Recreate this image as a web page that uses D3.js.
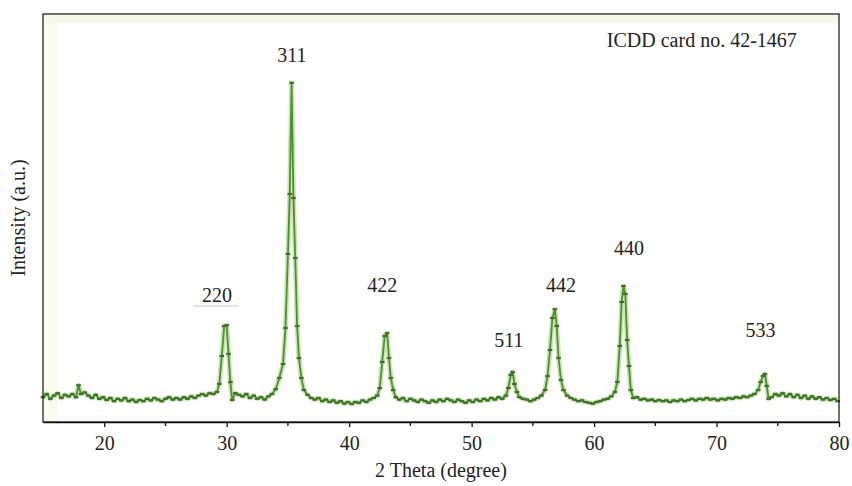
<!DOCTYPE html>
<html><head><meta charset="utf-8">
<script src="https://cdn.jsdelivr.net/npm/d3@7/dist/d3.min.js"></script>
<style>body{margin:0;background:#fff}svg{display:block}</style>
</head><body><svg id="c" width="852" height="486"></svg>
<script>
const twoTheta = [15.0,15.3,15.6,15.9,16.2,16.5,16.8,17.1,17.4,17.7,17.9,18.1,18.4,18.7,19.0,19.3,19.6,19.9,20.2,20.5,20.8,21.1,21.4,21.7,22.0,22.3,22.6,22.9,23.2,23.5,23.8,24.1,24.4,24.7,25.0,25.3,25.6,25.9,26.2,26.5,26.8,27.1,27.4,27.7,28.0,28.3,28.6,28.9,29.2,29.4,29.6,29.8,30.0,30.15,30.3,30.45,30.7,31.0,31.3,31.6,31.9,32.2,32.5,32.8,33.1,33.4,33.7,34.0,34.3,34.6,34.8,35.0,35.15,35.3,35.45,35.6,35.75,35.9,36.1,36.3,36.6,36.9,37.2,37.5,37.8,38.1,38.4,38.7,39.0,39.3,39.6,39.9,40.2,40.5,40.8,41.1,41.4,41.7,42.0,42.3,42.5,42.7,42.9,43.1,43.25,43.4,43.6,43.8,44.1,44.4,44.7,45.0,45.3,45.6,45.9,46.2,46.5,46.8,47.1,47.4,47.7,48.0,48.3,48.6,48.9,49.2,49.5,49.8,50.1,50.4,50.7,51.0,51.3,51.6,51.9,52.2,52.5,52.8,53.0,53.2,53.35,53.5,53.7,53.9,54.2,54.5,54.8,55.1,55.4,55.7,56.0,56.2,56.4,56.6,56.8,56.95,57.1,57.3,57.5,57.8,58.1,58.4,58.7,59.0,59.3,59.6,59.9,60.2,60.5,60.8,61.1,61.4,61.7,61.9,62.1,62.25,62.4,62.55,62.7,62.85,63.0,63.2,63.5,63.8,64.1,64.4,64.7,65.0,65.3,65.6,65.9,66.2,66.5,66.8,67.1,67.4,67.7,68.0,68.3,68.6,68.9,69.2,69.5,69.8,70.1,70.4,70.7,71.0,71.3,71.6,71.9,72.2,72.5,72.8,73.1,73.4,73.6,73.8,73.95,74.1,74.25,74.5,74.8,75.1,75.4,75.7,76.0,76.3,76.6,76.9,77.2,77.5,77.8,78.1,78.4,78.7,79.0,79.3,79.6,79.9];
const intensity = [62,70,58,66,72,60,68,64,70,62,92,70,74,66,60,68,58,62,55,60,52,58,54,60,52,56,50,55,52,58,54,60,56,52,58,62,56,60,56,62,58,64,60,66,70,66,72,70,75,95,165,240,242,170,100,55,72,68,64,70,60,66,58,62,56,64,70,82,110,145,235,420,570,848,560,410,240,160,110,80,68,60,56,60,52,56,50,54,48,52,46,50,45,50,48,54,50,56,60,66,85,150,215,222,160,110,80,62,56,60,52,58,54,50,56,52,48,54,50,56,52,58,54,50,56,52,48,54,50,56,52,58,54,60,56,62,58,66,85,118,125,95,75,62,58,56,52,56,60,66,80,115,180,260,282,240,160,105,80,66,60,56,52,54,50,48,46,50,52,56,58,64,75,100,190,300,340,320,205,140,80,60,62,56,58,54,56,52,55,52,54,50,54,52,56,52,55,58,54,58,56,60,56,58,54,58,56,60,58,62,60,64,62,66,70,80,100,115,120,90,58,62,70,66,72,64,70,62,68,60,66,58,64,58,62,56,60,55,58,52];
const xTicks = [20,30,40,50,60,70,80];
const minorTicks = [25,35,45,55,65,75];
const peakLabels = ["220","311","422","511","442","440","533"];
const peakLabelTheta = [29.2,35.33,42.7,53.05,57.3,62.85,73.6];
const peakLabelLevel = [318,918,343,205,343,435,230];
const cardText = "ICDD card no. 42-1467";

const svg = d3.select("#c");
const L=43,R=839,T=14,B=422;
const x = d3.scaleLinear().domain([15,80]).range([L,R]);
const y = d3.scaleLinear().domain([0,1020]).range([B,T]);
const serif = "'Liberation Serif','DejaVu Serif',serif";
const FS = 20;

svg.append("rect").attr("x",L+1).attr("y",T+1).attr("width",14).attr("height",B-T-2).attr("fill","#fbfcf1");
svg.append("rect").attr("x",L+1).attr("y",T+1).attr("width",R-L-2).attr("height",8).attr("fill","#f7f8e8");

const pts = twoTheta.map((t,i)=>[t,intensity[i]]);
const line = d3.line().x(d=>x(d[0])).y(d=>y(d[1]));
svg.append("path").attr("d",line(pts)).attr("fill","none").attr("stroke","#b9dc9c").attr("stroke-width",5).attr("stroke-linejoin","round").attr("opacity",0.75);
svg.append("path").attr("d",line(pts)).attr("fill","none").attr("stroke","#4f8f33").attr("stroke-width",1.8).attr("stroke-linejoin","round");
svg.append("g").selectAll("line").data(pts).join("line")
  .attr("x1",d=>x(d[0])-2.3).attr("x2",d=>x(d[0])+2.3)
  .attr("y1",d=>y(d[1])).attr("y2",d=>y(d[1]))
  .attr("stroke","#3f6f2b").attr("stroke-width",2.2);

// frame
svg.append("rect").attr("x",L).attr("y",T).attr("width",R-L).attr("height",B-T).attr("fill","none").attr("stroke","#111").attr("stroke-width",1.2);

const ax = svg.append("g").attr("transform",`translate(0,${B})`)
  .call(d3.axisBottom(x).tickValues(xTicks).tickSize(5).tickSizeOuter(0).tickPadding(9).tickFormat(d3.format("d")));
ax.select(".domain").attr("stroke","#111").attr("stroke-width",1.5);
ax.selectAll(".tick line").attr("stroke","#111").attr("stroke-width",1.3);
ax.selectAll("text").attr("font-family",serif).attr("font-size",FS).attr("fill","#222");
svg.append("g").selectAll("line").data(minorTicks).join("line")
  .attr("x1",d=>x(d)).attr("x2",d=>x(d)).attr("y1",B).attr("y2",B+4).attr("stroke","#111").attr("stroke-width",1.3);

svg.append("text").attr("x",441).attr("y",470).attr("dominant-baseline","central").attr("text-anchor","middle")
  .attr("font-family",serif).attr("font-size",FS).attr("fill","#222").text("2 Theta (degree)");
svg.append("text").attr("transform",`translate(18,${(T+B)/2}) rotate(-90)`).attr("dominant-baseline","central").attr("text-anchor","middle")
  .attr("font-family",serif).attr("font-size",FS).attr("fill","#222").text("Intensity (a.u.)");

svg.append("g").selectAll("text").data(peakLabels).join("text")
  .attr("x",(d,i)=>x(peakLabelTheta[i])).attr("y",(d,i)=>y(peakLabelLevel[i]))
  .attr("dominant-baseline","central")
  .attr("text-anchor","middle").attr("font-family",serif).attr("font-size",FS).attr("fill","#222").text(d=>d);
svg.append("line").attr("x1",x(29.2)-24).attr("x2",x(29.2)+22).attr("y1",y(290)).attr("y2",y(290)).attr("stroke","#c8c8c8").attr("stroke-width",1);

svg.append("text").attr("x",x(68.8)).attr("y",y(955)).attr("dominant-baseline","central").attr("text-anchor","middle")
  .attr("font-family",serif).attr("font-size",FS).attr("fill","#222").text(cardText);
</script></body></html>
